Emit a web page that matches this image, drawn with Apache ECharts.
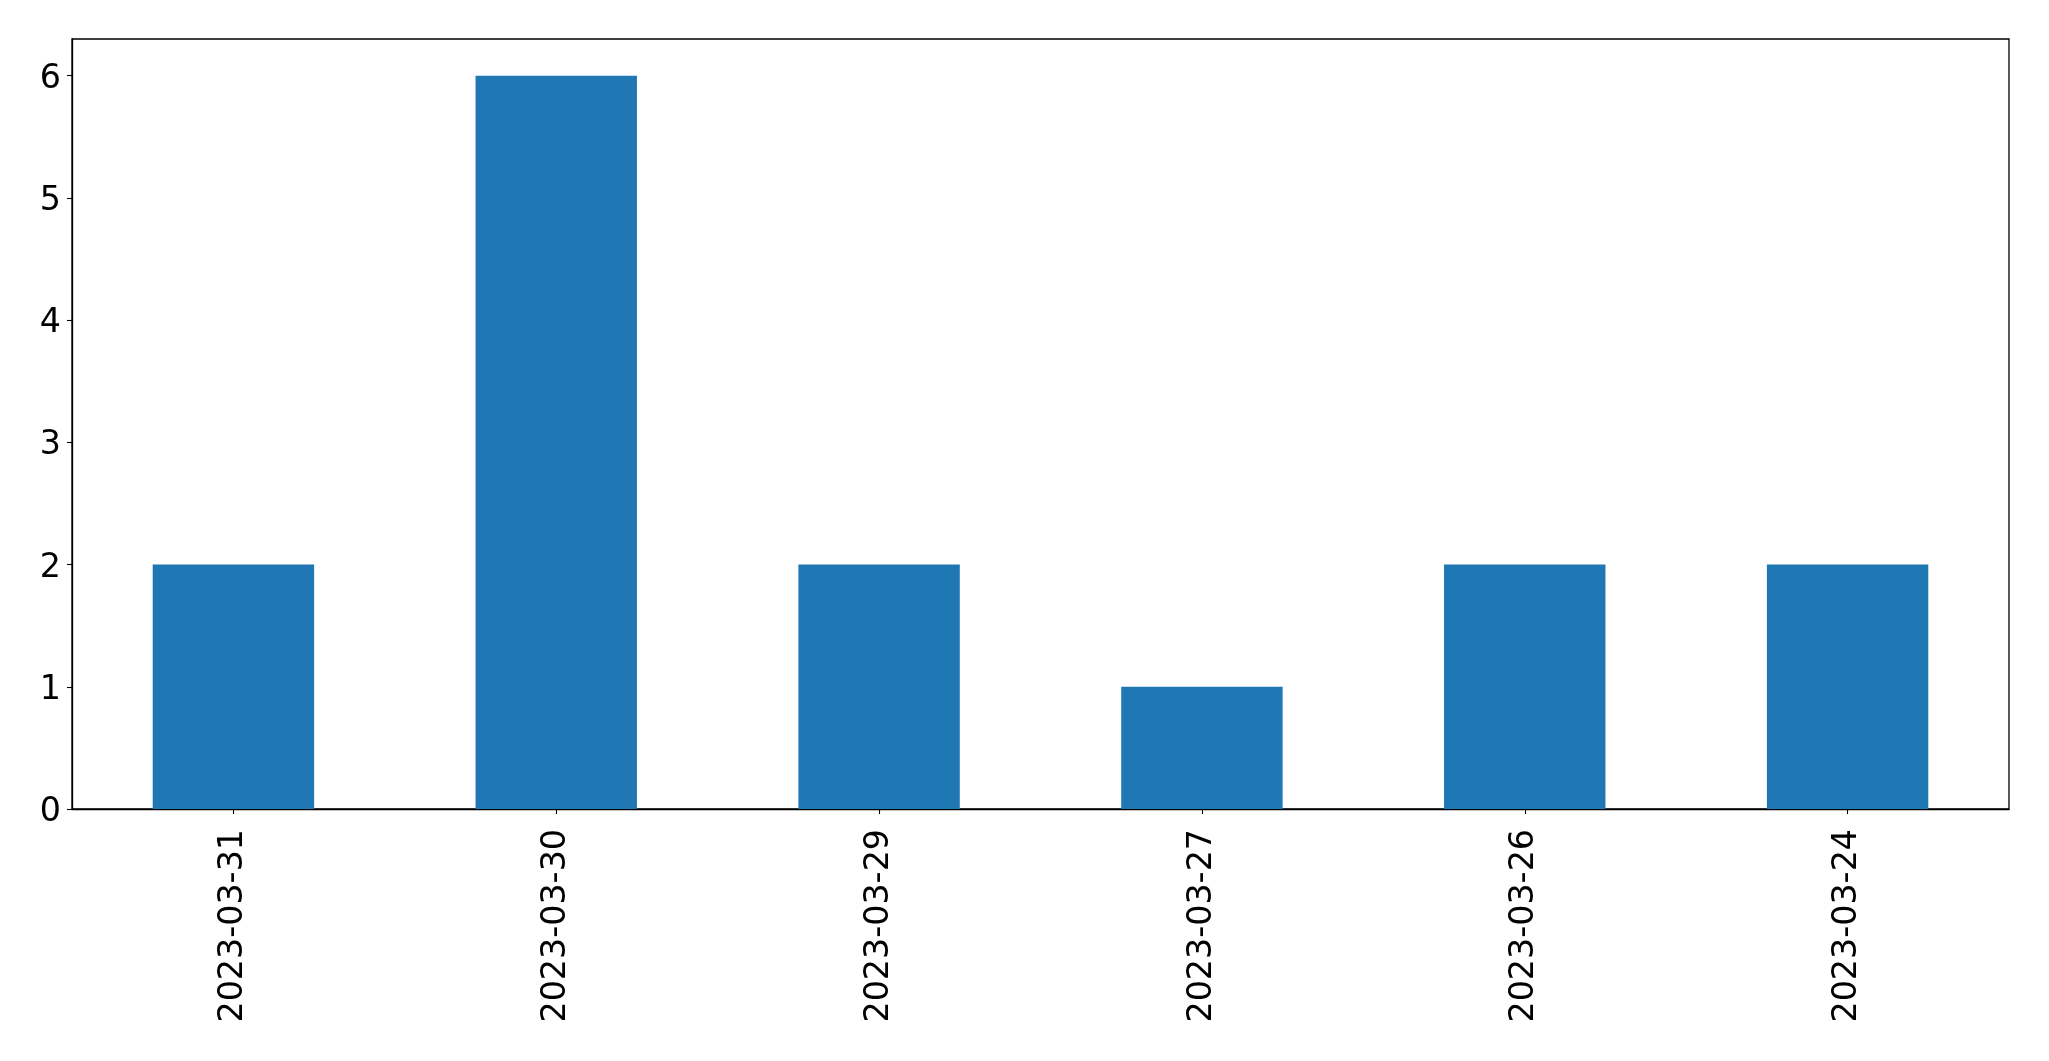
<!DOCTYPE html>
<html>
<head>
<meta charset="utf-8">
<script src="https://cdn.jsdelivr.net/npm/echarts@6/dist/echarts.min.js"></script>
<style>
html,body{margin:0;padding:0;background:#fff;}
#chart{width:2049px;height:1061px;}
</style>
</head>
<body>
<div id="chart"></div>
<script>
const categories = ['2023-03-31', '2023-03-30', '2023-03-29', '2023-03-27', '2023-03-26', '2023-03-24'];
const counts = [2, 6, 2, 1, 2, 2];
const yTicks = [0, 1, 2, 3, 4, 5, 6];

const chart = echarts.init(document.getElementById('chart'));
const font = 'DejaVu Sans';
chart.setOption({
  animation: false,
  backgroundColor: '#ffffff',
  grid: {
    left: 72, top: 39, right: 40, bottom: 252,
    show: true, borderColor: '#000', borderWidth: 1.3, backgroundColor: 'transparent'
  },
  xAxis: {
    type: 'category',
    data: categories,
    axisLine: { show: true, lineStyle: { color: '#000', width: 1.3 } },
    axisTick: { show: true, alignWithLabel: true, length: 5, lineStyle: { color: '#000', width: 1.1 } },
    axisLabel: { rotate: 90, margin: 20, color: '#000', fontSize: 33.3, fontFamily: font },
    splitLine: { show: false }
  },
  yAxis: {
    type: 'value',
    min: 0,
    max: 6.3,
    interval: 1,
    axisLine: { show: true, lineStyle: { color: '#000', width: 1.3 } },
    axisTick: { show: true, length: 5, lineStyle: { color: '#000', width: 1.1 } },
    axisLabel: {
      margin: 11, color: '#000', fontSize: 33.3, fontFamily: font,
      showMaxLabel: false,
      formatter: function (v) { return yTicks.indexOf(v) >= 0 ? '{t|' + v + '}' : ''; },
      rich: {
        t: { fontSize: 33.3, fontFamily: font, color: '#000', padding: [7, 0, 0, 0] }
      }
    },
    splitLine: { show: false }
  },
  series: [{
    type: 'bar',
    data: counts,
    barWidth: '50%',
    itemStyle: { color: '#1f77b4' }
  }]
});
</script>
</body>
</html>
